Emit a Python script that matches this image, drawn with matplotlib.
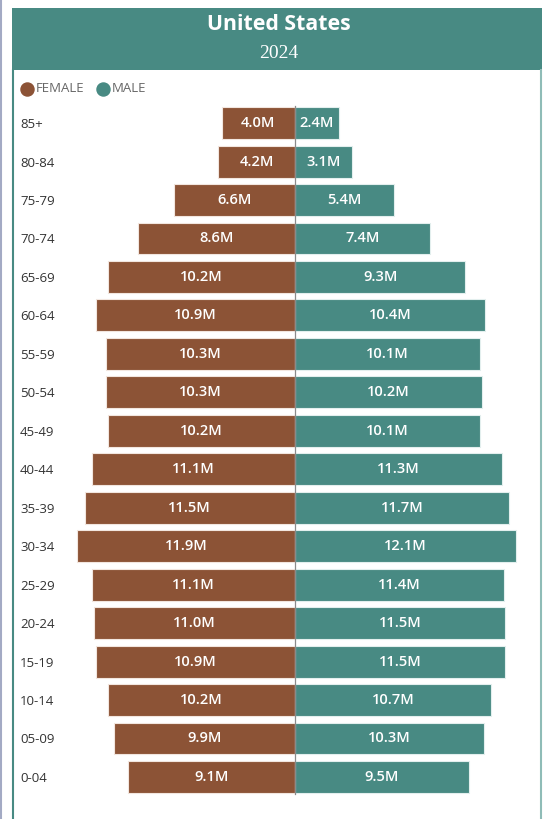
import matplotlib.pyplot as plt
from matplotlib.patches import Rectangle
from matplotlib.lines import Line2D

age_groups = ['0-04', '05-09', '10-14', '15-19', '20-24', '25-29', '30-34', '35-39', '40-44',
              '45-49', '50-54', '55-59', '60-64', '65-69', '70-74', '75-79', '80-84', '85+']
female = [9.1, 9.9, 10.2, 10.9, 11.0, 11.1, 11.9, 11.5, 11.1,
          10.2, 10.3, 10.3, 10.9, 10.2, 8.6, 6.6, 4.2, 4.0]
male = [9.5, 10.3, 10.7, 11.5, 11.5, 11.4, 12.1, 11.7, 11.3,
        10.1, 10.2, 10.1, 10.4, 9.3, 7.4, 5.4, 3.1, 2.4]

brown = '#8c5336'
teal = '#488a83'
W, H = 543, 819

fig = plt.figure(figsize=(W / 100, H / 100), dpi=100)

def fx(px):
    return px / W

def fy(py):
    return 1 - py / H

# frame and header band
fig.add_artist(Line2D([fx(1), fx(1)], [0, 1], color='#a3aac4', lw=1.5))
fig.add_artist(Line2D([fx(12.5), fx(12.5)], [0, fy(70)], color=teal, lw=1.5))
fig.add_artist(Line2D([fx(541), fx(541)], [0, fy(70)], color='#8fbcb7', lw=1.5))
fig.add_artist(Rectangle((fx(12), fy(70)), fx(530), 62 / H, color=teal, lw=0))
fig.text(fx(279), fy(25), 'United States', color='white', fontsize=15.3, fontweight='bold',
         family='Open Sans', ha='center', va='center')
fig.text(fx(279), fy(53), '2024', color='white', fontsize=14,
         family='Liberation Serif', ha='center', va='center')

# legend
fig.add_artist(Line2D([fx(26.5)], [fy(89)], marker='o', ms=9.4, color=brown, lw=0))
fig.text(fx(36), fy(89), 'FEMALE', color='#666666', fontsize=9.5, family='Open Sans', va='center')
fig.add_artist(Line2D([fx(103)], [fy(89)], marker='o', ms=9.4, color=teal, lw=0))
fig.text(fx(112), fy(89), 'MALE', color='#666666', fontsize=9.5, family='Open Sans', va='center')

# pyramid
ax = fig.add_axes([fx(60), fy(800), fx(470), 700 / H])
y = list(range(len(age_groups)))
neg_female = [-v for v in female]
ax.barh(y, neg_female, height=0.83, color=brown, edgecolor='#f2e6df', lw=0.8, zorder=2)
ax.barh(y, male, height=0.83, color=teal, edgecolor='#e3efee', lw=0.8, zorder=2)
ax.plot([0, 0], [-0.45, 17.45], color='#8a8a8a', lw=0.9, zorder=3)

for i in y:
    ax.text(-female[i] / 2, i, f'{female[i]:.1f}M', color='white', fontsize=10.5,
            family='Open Sans', fontweight='semibold', ha='center', va='center', zorder=4)
    ax.text(male[i] / 2, i, f'{male[i]:.1f}M', color='white', fontsize=10.5,
            family='Open Sans', fontweight='semibold', ha='center', va='center', zorder=4)

ax.set_xlim(-12.84, 12.84)
ax.set_ylim(-0.6, 17.6)
ax.set_yticks(y, age_groups)
ax.tick_params(axis='y', length=0, pad=28.8, labelsize=9.5, labelcolor='#333333')
for lbl in ax.get_yticklabels():
    lbl.set_horizontalalignment('left')
    lbl.set_family('Open Sans')
ax.set_xticks([])
for s in ax.spines.values():
    s.set_visible(False)

fig.savefig('out.png', dpi=100)
